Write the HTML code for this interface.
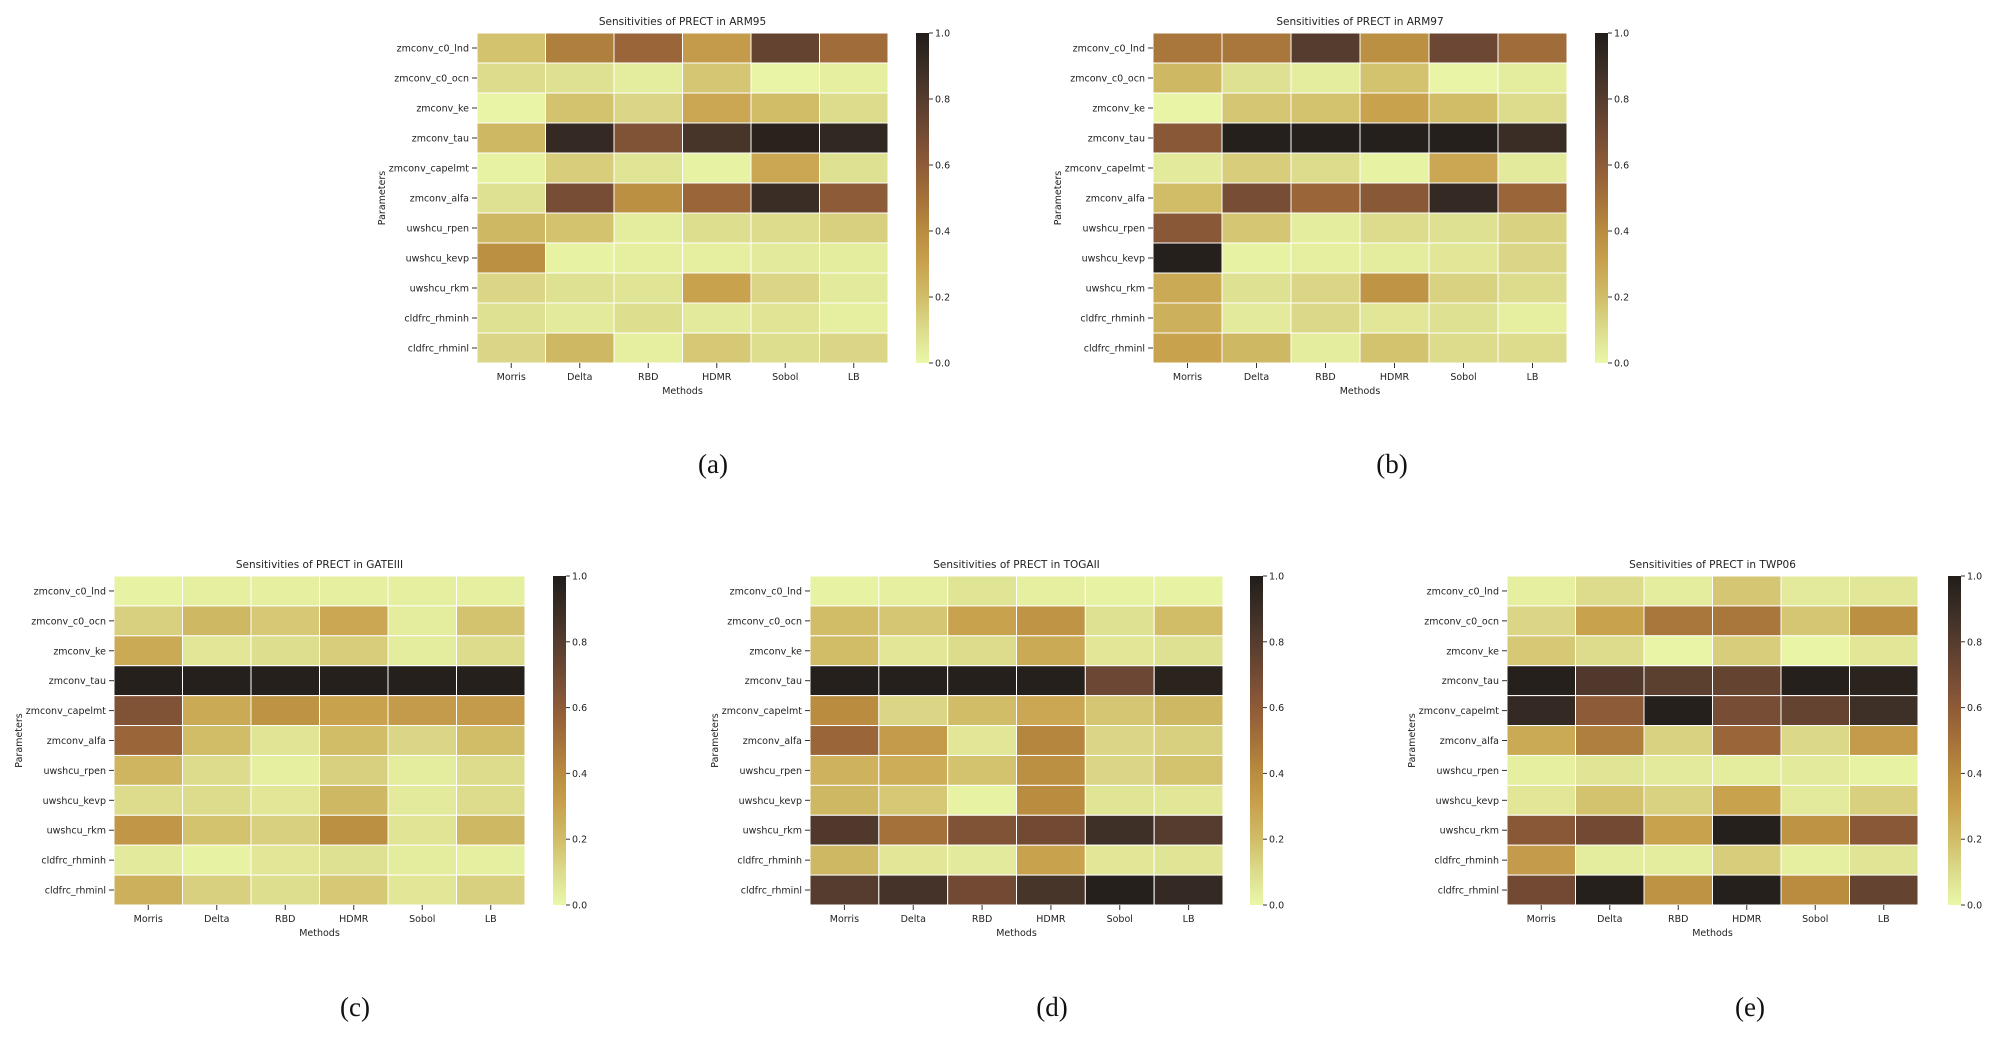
<!DOCTYPE html>
<html><head><meta charset="utf-8"><style>
html,body{margin:0;padding:0;background:#fff;}
svg{display:block;font-family:"DejaVu Sans","Liberation Sans",sans-serif;}
</style></head><body>
<svg id="fig" width="2004" height="1042" viewBox="0 0 2004 1042" xmlns="http://www.w3.org/2000/svg">
<defs>
<linearGradient id="cmap" x1="0" y1="1" x2="0" y2="0">
<stop offset="0" stop-color="#eaf7a9"/><stop offset="0.1" stop-color="#dcdc8c"/><stop offset="0.2" stop-color="#d1bd68"/><stop offset="0.3" stop-color="#c9a24e"/><stop offset="0.4" stop-color="#b98c3f"/><stop offset="0.5" stop-color="#a5713a"/><stop offset="0.6" stop-color="#8e5b38"/><stop offset="0.7" stop-color="#724a34"/><stop offset="0.8" stop-color="#553c2e"/><stop offset="0.9" stop-color="#3a2d25"/><stop offset="1" stop-color="#211d1a"/>
</linearGradient>
</defs>
</svg>
<script>
const params = ["zmconv_c0_lnd","zmconv_c0_ocn","zmconv_ke","zmconv_tau","zmconv_capelmt","zmconv_alfa","uwshcu_rpen","uwshcu_kevp","uwshcu_rkm","cldfrc_rhminh","cldfrc_rhminl"];
const methods = ["Morris","Delta","RBD","HDMR","Sobol","LB"];
const cbTicks = ["0.0","0.2","0.4","0.6","0.8","1.0"];
const titles = ["ARM95","ARM97","GATEIII","TOGAII","TWP06"];
const letters = ["(a)","(b)","(c)","(d)","(e)"];
const valsARM95 = [[.18,.45,.55,.33,.75,.52],[.10,.08,.04,.17,.01,.03],[.01,.18,.12,.28,.20,.10],[.22,.92,.65,.85,.97,.93],[.02,.15,.07,.02,.28,.08],[.08,.68,.38,.55,.90,.60],[.22,.18,.04,.09,.10,.14],[.38,.02,.03,.03,.05,.04],[.12,.08,.07,.30,.12,.05],[.08,.05,.09,.05,.07,.03],[.12,.22,.03,.16,.09,.12]];
const valsARM97 = [[.48,.48,.80,.38,.72,.52],[.22,.08,.04,.18,.01,.04],[.01,.17,.18,.30,.20,.10],[.62,.98,.98,.98,.98,.90],[.05,.15,.10,.02,.28,.05],[.20,.68,.55,.62,.92,.55],[.62,.17,.04,.10,.08,.13],[.98,.02,.03,.04,.06,.12],[.27,.08,.12,.36,.13,.10],[.25,.05,.11,.06,.08,.03],[.30,.22,.04,.18,.10,.10]];
const valsGATEIII = [[.02,.03,.03,.03,.03,.03],[.14,.22,.16,.28,.04,.18],[.27,.06,.09,.15,.04,.10],[.98,.98,.98,.98,.98,.98],[.65,.27,.37,.30,.33,.33],[.55,.20,.07,.20,.12,.20],[.23,.10,.03,.14,.04,.10],[.10,.10,.06,.22,.05,.10],[.35,.18,.14,.38,.07,.22],[.05,.02,.06,.08,.04,.03],[.25,.14,.09,.16,.06,.14]];
const valsTOGAII = [[.02,.03,.07,.03,.02,.02],[.20,.17,.30,.36,.08,.20],[.20,.06,.10,.27,.06,.08],[.98,.98,.98,.98,.72,.96],[.40,.12,.20,.28,.17,.22],[.55,.33,.06,.42,.12,.14],[.24,.26,.18,.38,.12,.18],[.22,.16,.02,.40,.07,.06],[.82,.50,.65,.70,.88,.80],[.22,.06,.05,.30,.06,.07],[.80,.86,.70,.85,.98,.92]];
const valsTWP06 = [[.03,.10,.04,.17,.05,.06],[.12,.30,.48,.48,.17,.38],[.16,.10,.01,.15,.01,.06],[.98,.82,.78,.75,.98,.96],[.92,.60,.98,.68,.75,.88],[.27,.45,.13,.55,.11,.33],[.03,.07,.05,.04,.05,.02],[.06,.18,.13,.30,.05,.14],[.62,.70,.30,.98,.37,.62],[.33,.04,.04,.15,.03,.07],[.70,.98,.37,.98,.40,.75]];
const allVals = [valsARM95,valsARM97,valsGATEIII,valsTOGAII,valsTWP06];

const layout = [
 {x:477,y:33,w:411,h:330,cb:916,lx:713,ly:464},
 {x:1153,y:33,w:414,h:330,cb:1595,lx:1392,ly:464},
 {x:114,y:576,w:411,h:329,cb:553,lx:355,ly:1007},
 {x:810,y:576,w:413,h:329,cb:1250,lx:1052,ly:1007},
 {x:1507,y:576,w:411,h:329,cb:1948,lx:1750,ly:1007}
];
const stops=[[234,247,169],[220,220,140],[209,189,104],[201,162,78],[185,140,63],[165,113,58],[142,91,56],[114,74,52],[85,60,46],[58,45,37],[33,29,26]];
function cmap(v){v=Math.max(0,Math.min(1,v));const t=v*10;const i=Math.min(9,Math.floor(t));const f=t-i;const a=stops[i],b=stops[i+1];return `rgb(${a.map((c,k)=>Math.round(c+(b[k]-c)*f)).join(',')})`;}
const NS="http://www.w3.org/2000/svg";const svg=document.getElementById('fig');
function mk(tag,at,parent){const e=document.createElementNS(NS,tag);for(const k in at)e.setAttribute(k,at[k]);(parent||svg).appendChild(e);return e;}
function txt(s,at,parent){const e=mk('text',at,parent);e.textContent=s;return e;}

allVals.forEach((vals,p)=>{
 const L=layout[p];
 const g=mk('g',{});
 
 
 const cw=L.w/methods.length, ch=L.h/params.length;
 const xs=j=>L.x+j*cw, ys=i=>L.y+i*ch;
 const t=txt('Sensitivities of PRECT in '+titles[p],{x:L.x+L.w/2,y:L.y-8,'text-anchor':'middle','font-size':'10.5',fill:'#222'},g);
 
 
 vals.forEach((row,i)=>row.forEach((v,j)=>{
  const r=mk('rect',{x:xs(j),y:ys(i),width:cw,height:ch,fill:cmap(v),stroke:'#fff','stroke-width':1},g);
  
  
 }));
 params.forEach((n,i)=>{
  const cy=ys(i)+ch/2;
  mk('line',{x1:L.x-5,x2:L.x,y1:cy,y2:cy,stroke:'#333','stroke-width':1},g);
  const lb=txt(n,{x:L.x-8,y:cy+3.5,'text-anchor':'end','font-size':'9.5',fill:'#222'},g);
  
  
 });
 methods.forEach((n,j)=>{
  const cx=xs(j)+cw/2;
  mk('line',{x1:cx,x2:cx,y1:L.y+L.h,y2:L.y+L.h+5,stroke:'#333','stroke-width':1},g);
  const lb=txt(n,{x:cx,y:L.y+L.h+17,'text-anchor':'middle','font-size':'9.5',fill:'#222'},g);
  
  
 });
 const xl=txt('Methods',{x:L.x+L.w/2,y:L.y+L.h+31,'text-anchor':'middle','font-size':'9.5',fill:'#222'},g);
 
 
 const yl=txt('Parameters',{x:0,y:0,'text-anchor':'middle','font-size':'9.5',fill:'#222',transform:`translate(${L.x-92},${L.y+L.h/2}) rotate(-90)`},g);
 
 
 const cb=mk('rect',{x:L.cb,y:L.y,width:13,height:L.h,fill:'url(#cmap)'},g);
 
 
 cbTicks.forEach((s,k)=>{
  const yy=L.y+L.h-(parseFloat(s))*L.h;
  mk('line',{x1:L.cb+13,x2:L.cb+17,y1:yy,y2:yy,stroke:'#333','stroke-width':1},g);
  const lb=txt(s,{x:L.cb+19,y:yy+3.5,'font-size':'9.5',fill:'#222'},g);
  
  
 });
 const pl=txt(letters[p],{x:L.lx,y:L.ly+9,'text-anchor':'middle','font-size':'27',fill:'#111','font-family':'"Liberation Serif",serif'},g);
 
 
});
</script>
</body></html>
